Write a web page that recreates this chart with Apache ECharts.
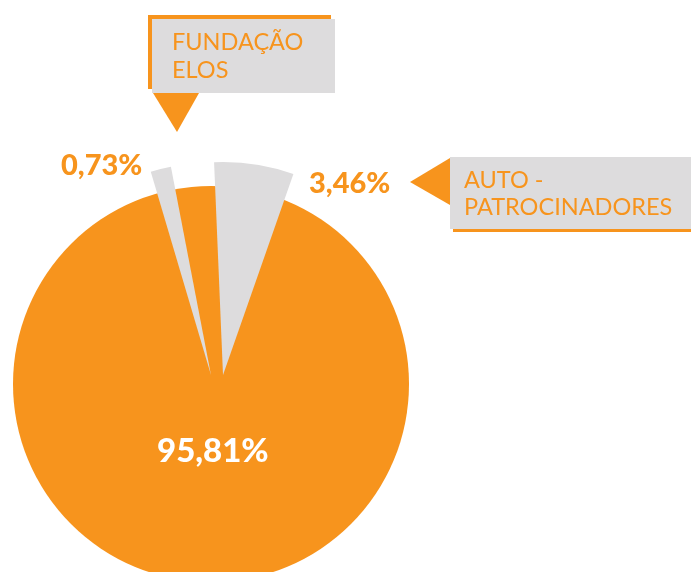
<!DOCTYPE html>
<html>
<head>
    <meta charset="utf-8" />
    <title>Participação</title>
    <script type="text/javascript" src="https://cdn.jsdelivr.net/npm/echarts@6/dist/echarts.min.js"></script>
    <style>
        html, body { margin: 0; padding: 0; background: #fff; }
    </style>
</head>
<body>
<div id="main" style="width: 691px;height:572px;"></div>
<script type="text/javascript">
    // dados
    var categorias = ['Patrocinadores', 'FUNDAÇÃO\nELOS', 'AUTO -\nPATROCINADORES'];
    var percentuais = [95.81, 0.73, 3.46];
    // abertura (graus) com que cada fatia cinza aparece desenhada na figura (fora de escala)
    var aberturaDesenhada = [5.6, 21.7];

    var laranja = '#F7941D';
    var cinza = '#DDDCDD';

    function fmt(v) {
        return v.toFixed(2).replace('.', ',') + '%';
    }

    var myChart = echarts.init(document.getElementById('main'));

    function fatia(nome, abertura, inicio, centro, raio) {
        return {
            type: 'pie',
            silent: true,
            center: centro,
            radius: [0, raio],
            startAngle: inicio,
            label: { show: false },
            labelLine: { show: false },
            data: [
                { name: nome, value: abertura, itemStyle: { color: cinza } },
                { name: '', value: 360 - abertura, itemStyle: { color: 'rgba(0,0,0,0)' } }
            ]
        };
    }

    var option = {
        backgroundColor: '#fff',
        animation: false,
        series: [
            {
                type: 'pie',
                silent: true,
                center: [211, 384],
                radius: [0, 198],
                label: { show: false },
                labelLine: { show: false },
                data: [{ name: categorias[0], value: percentuais[0], itemStyle: { color: laranja } }]
            },
            fatia(categorias[1], aberturaDesenhada[0], 106.5, [211, 375], 212),
            fatia(categorias[2], aberturaDesenhada[1], 92.4, [223, 375], 213)
        ],
        graphic: [
            // valores
            {
                type: 'text', left: 157, top: 435, z: 100,
                style: { text: fmt(percentuais[0]), fill: '#fff', font: '900 33px Lato' }
            },
            {
                type: 'text', left: 61, top: 151, z: 100,
                style: { text: fmt(percentuais[1]), fill: laranja, font: '900 29px Lato' }
            },
            {
                type: 'text', left: 309, top: 169, z: 100,
                style: { text: fmt(percentuais[2]), fill: laranja, font: '900 29px Lato' }
            },
            // caixa FUNDAÇÃO ELOS
            { type: 'rect', shape: { x: 148, y: 15, width: 183, height: 74 }, style: { fill: laranja } },
            { type: 'rect', shape: { x: 152, y: 19, width: 183, height: 74 }, style: { fill: cinza } },
            { type: 'polygon', shape: { points: [[153, 93], [199, 93], [177, 132]] }, style: { fill: laranja } },
            {
                type: 'text', left: 172, top: 28, z: 100,
                style: { text: categorias[1], fill: laranja, font: '23.5px Lato', lineHeight: 28 }
            },
            // caixa AUTO - PATROCINADORES
            { type: 'rect', shape: { x: 453, y: 160, width: 260, height: 72 }, style: { fill: laranja } },
            { type: 'rect', shape: { x: 450, y: 157, width: 260, height: 72 }, style: { fill: cinza } },
            { type: 'polygon', shape: { points: [[410, 182], [450, 158], [450, 205]] }, style: { fill: laranja } },
            {
                type: 'text', left: 464, top: 167, z: 100,
                style: { text: categorias[2], fill: laranja, font: '23.5px Lato', lineHeight: 27 }
            }
        ]
    };
    myChart.setOption(option);
</script>
</body>
</html>
